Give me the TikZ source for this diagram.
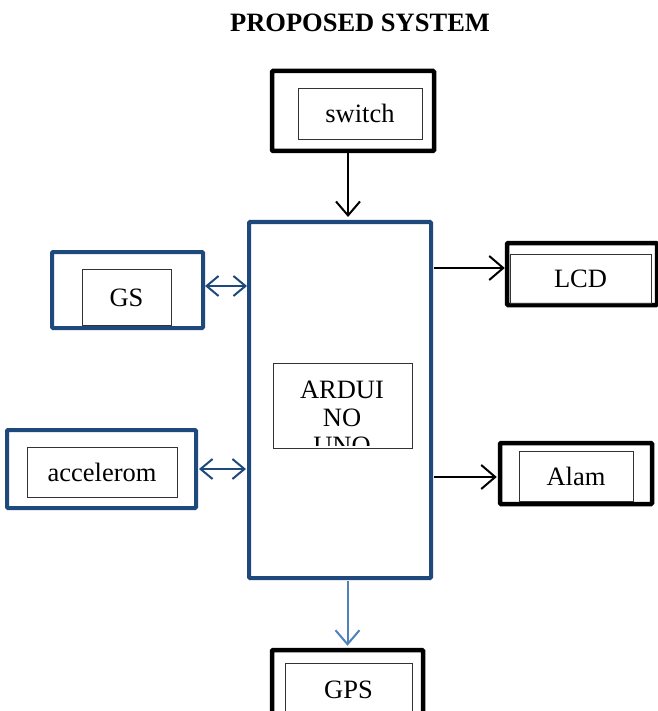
\documentclass[tikz,border=0pt]{standalone}
\usepackage{fontspec}
\setmainfont{Liberation Serif}
\usepackage{tikz}
\usetikzlibrary{arrows.meta, positioning, calc}

\begin{document}
\begin{tikzpicture}[x=1pt, y=-1pt,
    font=\fontsize{26.5}{28}\selectfont,
    outerbox/.style={draw, line width=4.5pt, rounded corners=1pt, minimum width=#1},
    bluebox/.style={draw=bdark, line width=4pt, rounded corners=1pt, minimum width=#1},
    innerbox/.style={draw=black!80, line width=0.8pt, minimum width=#1, inner sep=0pt,
      text height=18pt, text depth=0pt},
    arr/.style={line width=2pt, -{Straight Barb[length=14pt, width=24pt, line width=2pt]}},
    darr/.style={draw=bdark, line width=2pt,
      {Straight Barb[length=12pt, width=20pt, line width=2pt]}-{Straight Barb[length=12pt, width=20pt, line width=2pt]}}]
  \definecolor{bdark}{RGB}{31,73,125}
  \definecolor{blight}{RGB}{79,129,189}
  \useasboundingbox (0,0) rectangle (657,711);
  % --- titulo ---
  \node[font=\fontsize{26.5}{28}\selectfont\bfseries] (title) at (360,23) {PROPOSED SYSTEM};
  % --- arduino ---
  \node[bluebox=182pt, minimum height=356pt] (ardu) at (340,400) {};
  \node[innerbox=139pt, minimum height=85pt] (arduIn) at (342.5,405.5) {};
  \begin{scope}
    \clip (273,363) rectangle (412,445);
    \node[align=center, inner sep=0pt] (arduTxt) at (342,418) {ARDUI\\NO\\UNO};
  \end{scope}
  % --- switch ---
  \node[outerbox=162pt, minimum height=80pt] (swOut) at (353,111) {};
  \node[innerbox=124pt, minimum height=51pt] (swIn) at (360,113.5) {switch};
  % --- GS ---
  \node[bluebox=151pt, minimum height=76pt] (gsOut) at (127.5,290) {};
  \node[innerbox=89pt, minimum height=56pt] (gsIn) at (126.5,297) {GS};
  % --- acelerometro ---
  \node[bluebox=189pt, minimum height=78pt] (acOut) at (101.5,469) {};
  \node[innerbox=150pt, minimum height=50pt] (acIn) at (102,472) {accelerom};
  % --- LCD ---
  \node[outerbox=150pt, minimum height=62pt] (lcdOut) at (582,274) {};
  \node[innerbox=141pt, minimum height=49pt] (lcdIn) at (580.5,278.5) {LCD};
  % --- alarme ---
  \node[outerbox=152pt, minimum height=61pt] (alOut) at (576,473.5) {};
  \node[innerbox=114pt, minimum height=50pt] (alIn) at (576,476) {Alam};
  % --- GPS ---
  \node[outerbox=151pt, minimum height=80pt] (gpsOut) at (347.5,690) {};
  \node[innerbox=127pt, minimum height=52pt] (gpsIn) at (348.5,689) {GPS};
  % --- ligacoes ---
  \coordinate (swTail) at ([xshift=-5pt]swOut.south);
  \coordinate (gsTip) at ([yshift=4pt]gsOut.east);
  \coordinate (lcdTip) at ([yshift=6pt]lcdOut.west);
  \coordinate (alTip) at ([yshift=-3.5pt]alOut.west);
  \draw[arr, shorten >=3pt] (swTail) -- (swTail |- ardu.north);
  \draw[darr] (gsTip) -- (gsTip -| ardu.west);
  \draw[darr, shorten <=1pt, shorten >=1pt] (acOut.east) -- (acOut.east -| ardu.west);
  \draw[arr, shorten <=1pt] (ardu.east |- lcdTip) -- (lcdTip);
  \draw[arr, shorten <=1pt, shorten >=1pt] (ardu.east |- alTip) -- (alTip);
  \draw[arr, blight, shorten <=1pt, shorten >=2pt] (ardu.south -| gpsOut.north) -- (gpsOut.north);
\end{tikzpicture}
\end{document}
